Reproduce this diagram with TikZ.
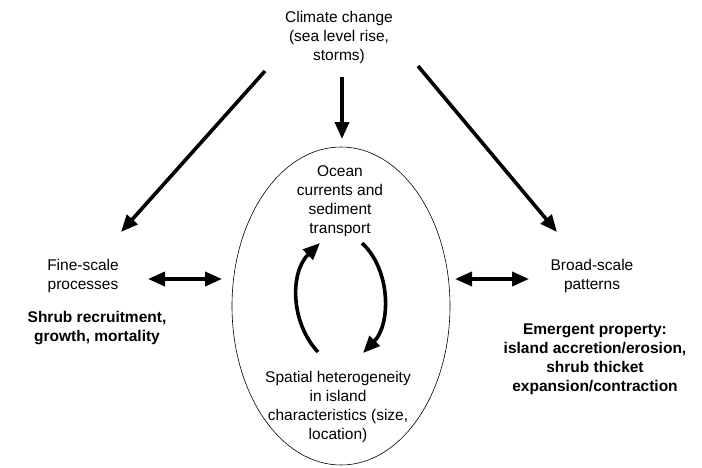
\documentclass[tikz,border=0pt]{standalone}
\usepackage{fontspec}
\setmainfont{Liberation Sans}
\usetikzlibrary{arrows.meta,shapes.geometric}
\tikzset{
  bigarrow/.style={line width=3.6pt,-{Triangle[length=17pt,width=14pt]}},
  twoarrow/.style={line width=3.6pt,{Triangle[length=17pt,width=14pt]}-{Triangle[length=17pt,width=14pt]}}
}

\begin{document}
\begin{tikzpicture}[x=1pt,y=-1pt,every node/.style={align=center,inner sep=0pt,font=\fontsize{15.5}{19}\selectfont}]
      \useasboundingbox (0,0) rectangle (702,467);
      \draw
        (339,37) node (climate) {Climate change\\(sea level rise,\\storms)}
        (83,276) node (fine) {Fine-scale\\processes}
        (97,328) node[font=\fontsize{15.5}{19}\selectfont\bfseries] (shrub) {Shrub recruitment,\\growth, mortality}
        (592,276) node (broad) {Broad-scale\\patterns}
        (595,359) node[font=\fontsize{15.5}{19}\selectfont\bfseries] (emergent) {Emergent property:\\island accretion/erosion,\\shrub thicket\\expansion/contraction};
      \draw[line width=0.6pt]
        (341,306) node[draw,ellipse,minimum width=218pt,minimum height=318pt] (island) {};
      \draw
        (340,201) node (ocean) {Ocean\\currents and\\sediment\\transport}
        (338,407) node (spatial) {Spatial heterogeneity\\in island\\characteristics (size,\\location)};
      % arrow ends
      \coordinate (clleft) at (265,71);
      \coordinate (fineend) at (121,232);
      \coordinate (clright) at (418,66);
      \coordinate (broadend) at (557,232);
      \coordinate (clmid) at (342,77);
      \coordinate (islandtop) at (342,139);
      \coordinate (fineright) at (148,279);
      \coordinate (islandleft) at (222,279);
      \coordinate (islandright) at (455,279);
      \coordinate (broadleft) at (529,279);
      \coordinate (spatialup) at (318,352);
      \coordinate (oceanleft) at (320,243);
      \coordinate (oceanright) at (362,243);
      \coordinate (spatialdown) at (363,353);
      \draw[bigarrow] (clleft) -- (fineend);
      \draw[bigarrow] (clright) -- (broadend);
      \draw[bigarrow] (clmid) -- (islandtop);
      \draw[twoarrow] (fineright) -- (islandleft);
      \draw[twoarrow] (islandright) -- (broadleft);
      \draw[bigarrow] (spatialup) .. controls (290,322) and (290,272) .. (oceanleft);
      \draw[bigarrow] (oceanright) .. controls (391,270) and (391,324) .. (spatialdown);
    \end{tikzpicture}
\end{document}
